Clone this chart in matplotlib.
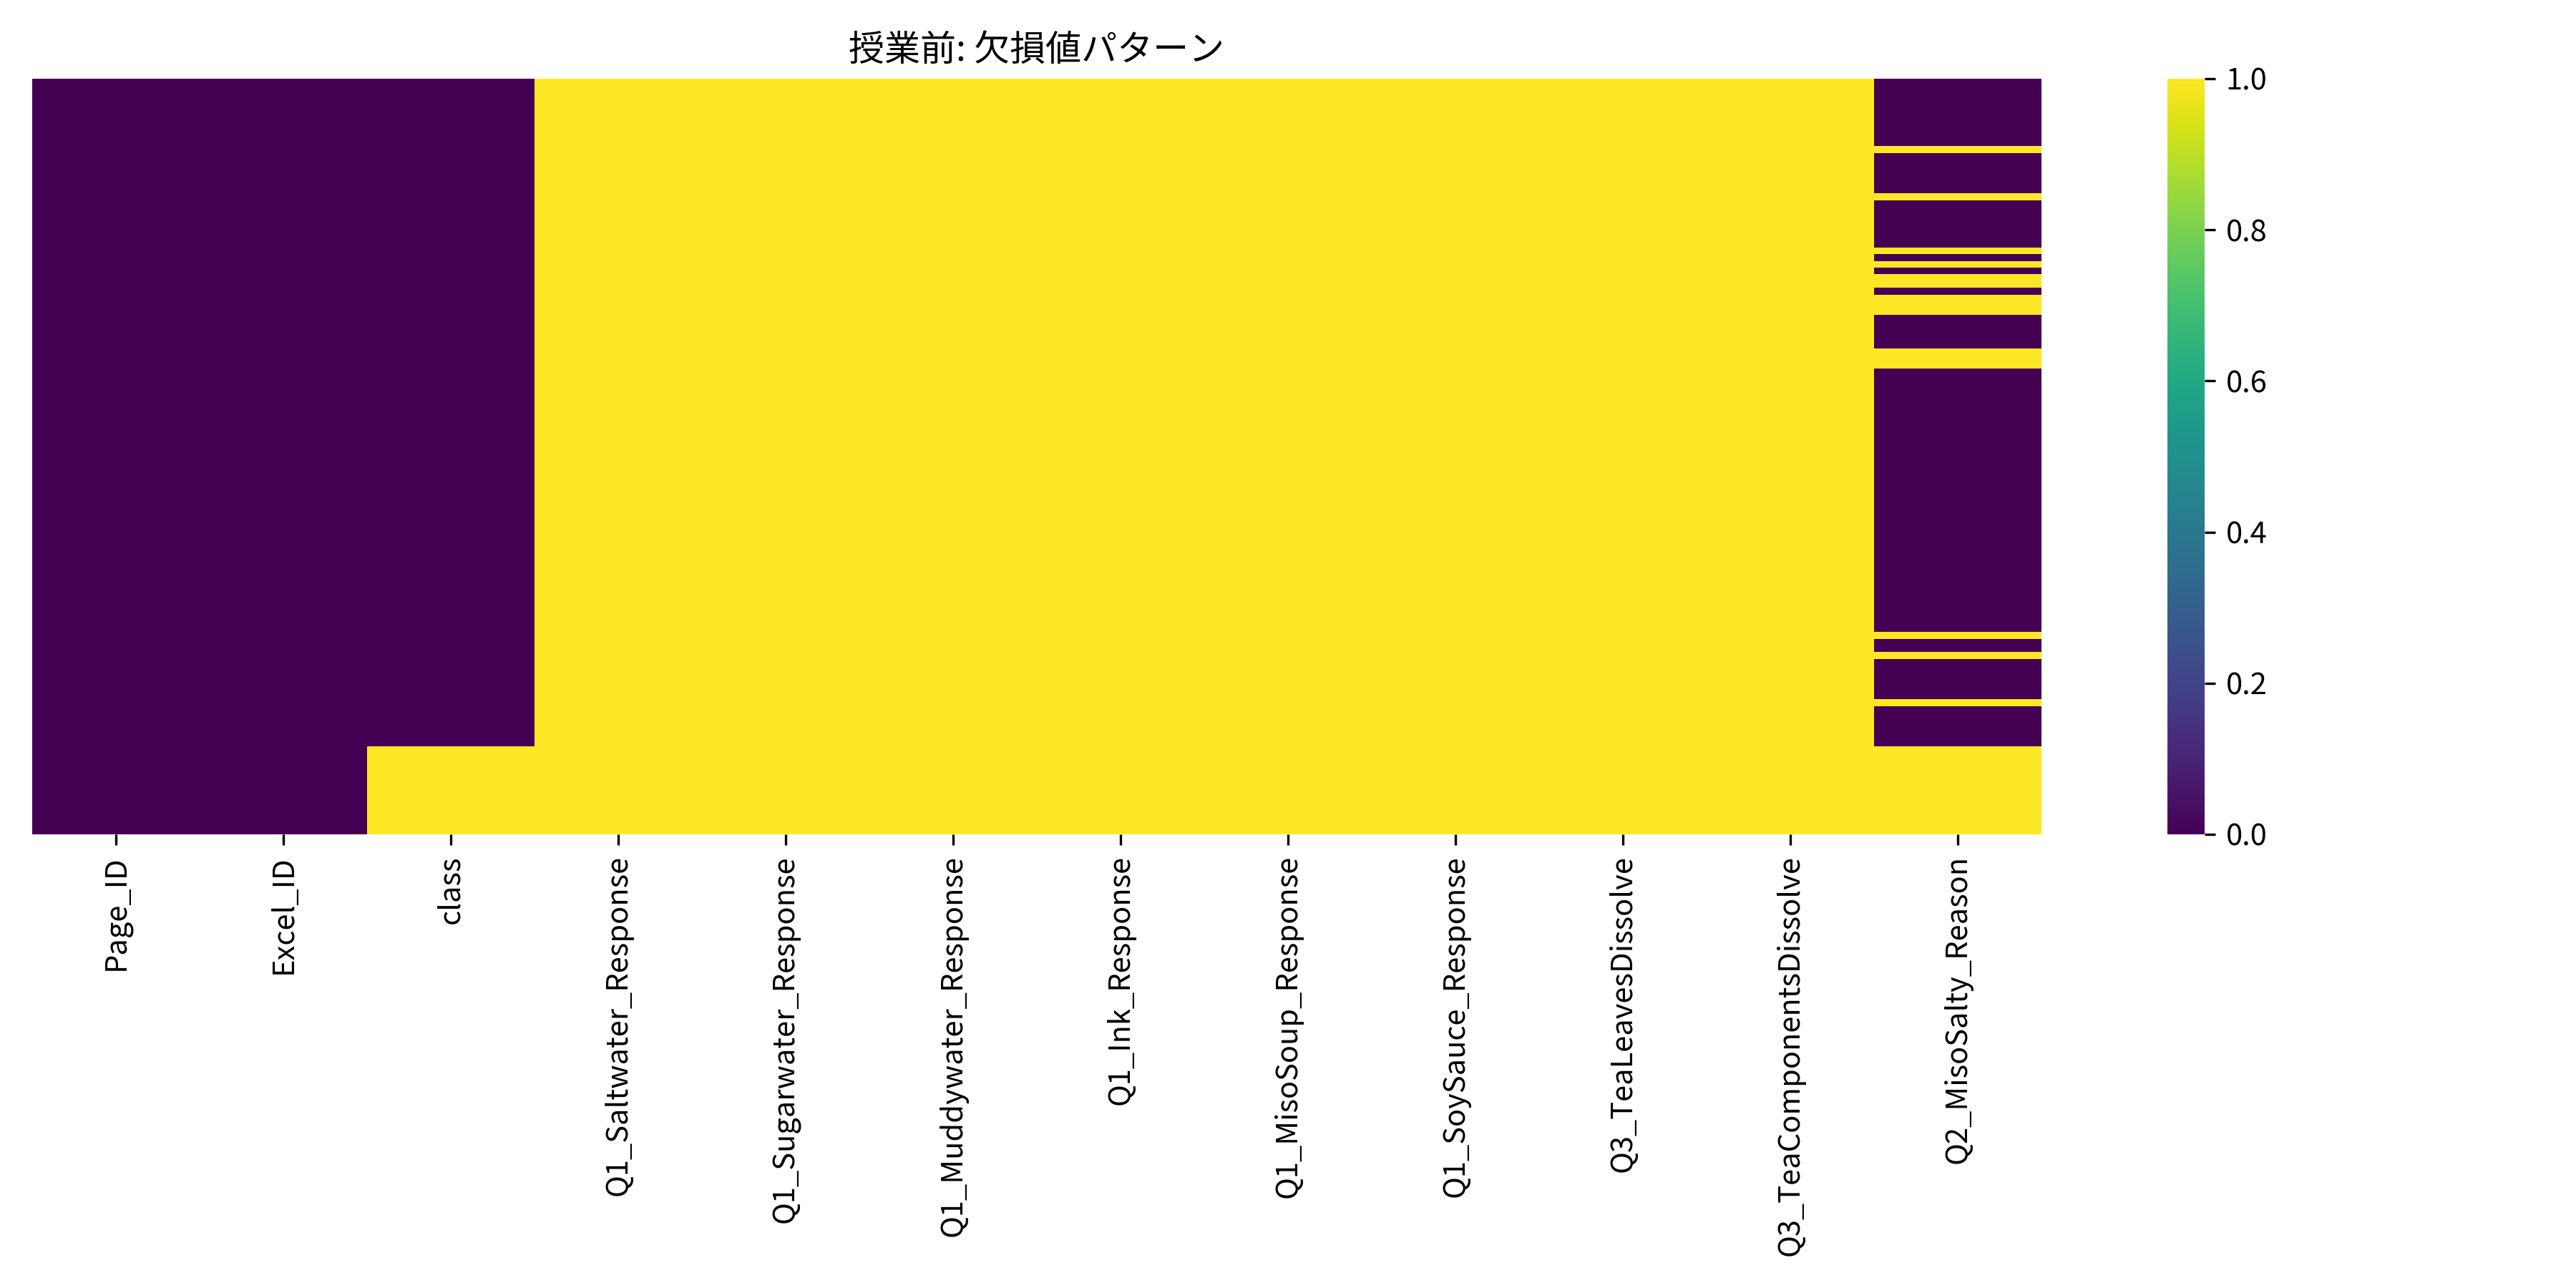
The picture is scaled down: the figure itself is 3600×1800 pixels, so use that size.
import numpy as np
import pandas as pd
import matplotlib
matplotlib.use('Agg')
import matplotlib.pyplot as plt
import seaborn as sns

plt.rcParams['font.family'] = ['Noto Sans CJK JP', 'DejaVu Sans']

# columns of the pre-class survey table
columns = ['Page_ID', 'Excel_ID', 'class',
           'Q1_Saltwater_Response', 'Q1_Sugarwater_Response',
           'Q1_Muddywater_Response', 'Q1_Ink_Response',
           'Q1_MisoSoup_Response', 'Q1_SoySauce_Response',
           'Q3_TeaLeavesDissolve', 'Q3_TeaComponentsDissolve',
           'Q2_MisoSalty_Reason']
n_rows = 112

# missing rows per column, as (first, last) runs
missing_runs = {
    'Page_ID': [],
    'Excel_ID': [],
    'class': [(99, 111)],
    'Q1_Saltwater_Response': [(0, 111)],
    'Q1_Sugarwater_Response': [(0, 111)],
    'Q1_Muddywater_Response': [(0, 111)],
    'Q1_Ink_Response': [(0, 111)],
    'Q1_MisoSoup_Response': [(0, 111)],
    'Q1_SoySauce_Response': [(0, 111)],
    'Q3_TeaLeavesDissolve': [(0, 111)],
    'Q3_TeaComponentsDissolve': [(0, 111)],
    'Q2_MisoSalty_Reason': [(10, 10), (17, 17), (25, 25), (27, 27),
                            (29, 30), (32, 34), (40, 42), (82, 82),
                            (85, 85), (92, 92), (99, 111)],
}

mask = pd.DataFrame(False, index=range(n_rows), columns=columns)
for col in columns:
    for a, b in missing_runs[col]:
        mask.loc[a:b, col] = True

fig, ax = plt.subplots(figsize=(12, 6), dpi=300)
sns.heatmap(mask, cbar=True, yticklabels=False, cmap='viridis', ax=ax)
ax.set_title('授業前: 欠損値パターン')
fig.tight_layout()
plt.savefig('out.png', dpi=300)
